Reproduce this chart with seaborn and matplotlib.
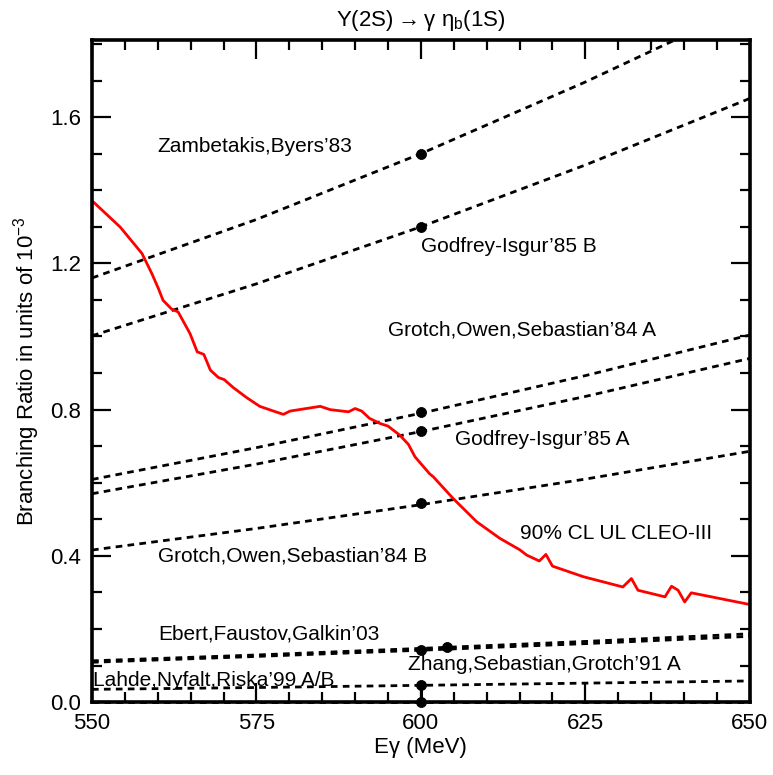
import numpy as np
import pandas as pd
import matplotlib
matplotlib.use("Agg")
import matplotlib.pyplot as plt
import seaborn as sns
from matplotlib.ticker import MultipleLocator, FormatStrFormatter

# ---------------- data ----------------
model_e = [550, 575, 600, 625, 650]
zambetakis_83 = [1.160, 1.320, 1.500, 1.696, 1.907]
godfrey_85b = [1.002, 1.144, 1.300, 1.469, 1.651]
grotch_84a = [0.609, 0.696, 0.790, 0.893, 1.004]
godfrey_85a = [0.570, 0.651, 0.740, 0.836, 0.940]
grotch_84b = [0.416, 0.475, 0.540, 0.610, 0.686]
ebert_03 = [0.109, 0.125, 0.142, 0.160, 0.180]
zhang_91a = [0.113, 0.129, 0.147, 0.166, 0.187]
lahde_99a = [0.035, 0.040, 0.046, 0.052, 0.058]
lahde_99b = [0.0, 0.0, 0.0, 0.0, 0.0]

dot_e = [600, 600, 600, 600, 600, 600, 604, 600, 600]
dot_br = [1.50, 1.30, 0.793, 0.741, 0.544, 0.142, 0.150, 0.046, 0.0]

cleo_e = [550.2, 554.3, 557.6, 559.1, 560.1, 560.8, 562.1, 563.1, 564.9, 566.0,
          567.0, 568.0, 569.2, 570.1, 571.5, 573.5, 575.5, 577.6, 579.1, 580.1,
          584.7, 586.2, 589.0, 590.0, 591.0, 592.2, 593.8, 595.0, 596.8, 598.1,
          599.1, 601.3, 601.9, 604.9, 608.5, 612.0, 615.0, 616.1, 618.0, 619.0,
          620.0, 624.7, 630.7, 632.0, 633.0, 637.1, 638.1, 639.1, 640.1, 641.1,
          650.0]
cleo_ul = [1.368, 1.299, 1.227, 1.172, 1.131, 1.099, 1.075, 1.067, 1.008, 0.958,
           0.951, 0.908, 0.888, 0.882, 0.860, 0.833, 0.809, 0.796, 0.787, 0.796,
           0.809, 0.800, 0.794, 0.803, 0.796, 0.776, 0.762, 0.755, 0.730, 0.705,
           0.671, 0.625, 0.616, 0.557, 0.493, 0.448, 0.417, 0.402, 0.386, 0.404,
           0.372, 0.343, 0.315, 0.338, 0.306, 0.288, 0.317, 0.306, 0.274, 0.299,
           0.267]

labels = ["Zambetakis,Byers\u201983", "Godfrey-Isgur\u201985 B",
          "Grotch,Owen,Sebastian\u201984 A", "Godfrey-Isgur\u201985 A",
          "Grotch,Owen,Sebastian\u201984 B", "90% CL UL CLEO-III",
          "Ebert,Faustov,Galkin\u201903", "Zhang,Sebastian,Grotch\u201991 A",
          "Lahde,Nyfalt,Riska\u201999 A/B"]
label_x = [560.0, 600.0, 595.0, 605.2, 560.0, 615.0, 560.0, 598.0, 550.2]
label_y = [1.52, 1.247, 1.017, 0.719, 0.399, 0.462, 0.186, 0.104, 0.060]

# ---------------- style ----------------
sns.set_style("ticks")
plt.rcParams["font.family"] = ["Liberation Sans", "DejaVu Sans"]
plt.rcParams["mathtext.fontset"] = "custom"
plt.rcParams["mathtext.rm"] = "Liberation Sans"
for k in ["text.color", "axes.labelcolor", "xtick.color", "ytick.color",
          "axes.edgecolor"]:
    plt.rcParams[k] = "black"

fig = plt.figure(figsize=(7.73, 7.75), dpi=100)
ax = fig.add_axes([0.119, 0.094, 0.851, 0.854])

dash = (2.4, 1.9)
lw = 2.0
for series in [zambetakis_83, godfrey_85b, grotch_84a, godfrey_85a, grotch_84b,
               ebert_03, zhang_91a, lahde_99a]:
    sns.lineplot(x=model_e, y=series, ax=ax, color="black", linewidth=lw,
                 estimator=None, sort=False)
    ax.lines[-1].set_dashes(dash)
sns.lineplot(x=model_e, y=lahde_99b, ax=ax, color="black", linewidth=lw,
             estimator=None, sort=False)
ax.lines[-1].set_dashes(dash)
ax.lines[-1].set_clip_on(False)

# A/B band for Lahde at 600
ax.plot([dot_e[-2], dot_e[-1]], [dot_br[-2], dot_br[-1]], color="black", lw=2.2)

sns.lineplot(x=cleo_e, y=cleo_ul, ax=ax, color="red", linewidth=2.0,
             estimator=None, sort=False)

sns.scatterplot(x=dot_e, y=dot_br, ax=ax, color="black", s=52, edgecolor="black",
                zorder=5, clip_on=False)

for t, x, y in zip(labels, label_x, label_y):
    ax.text(x, y, t, fontsize=15, ha="left", va="center", color="black")

ax.set_xlim(550, 650)
ax.set_ylim(0, 1.81)
ax.xaxis.set_major_locator(MultipleLocator(25))
ax.xaxis.set_minor_locator(MultipleLocator(5))
ax.yaxis.set_major_locator(MultipleLocator(0.4))
ax.yaxis.set_minor_locator(MultipleLocator(0.1))
ax.yaxis.set_major_formatter(FormatStrFormatter("%.1f"))
ax.tick_params(which="both", direction="in", top=True, right=True, width=1.6,
               labelsize=16, pad=8, colors="black")
ax.tick_params(which="major", length=14)
ax.tick_params(which="minor", length=7)
for s in ax.spines.values():
    s.set_linewidth(2.6)
    s.set_visible(True)
    s.set_color("black")

ax.set_xlabel("E\u03b3 (MeV)", fontsize=16, labelpad=2)
ax.set_ylabel("Branching Ratio in units of 10$^{-3}$", fontsize=16, labelpad=6)
ax.set_title("\u03a5(2S)$\\rightarrow$\u03b3 \u03b7$_\\mathregular{b}$(1S)",
             fontsize=16, pad=10)

fig.savefig("out.png", dpi=100)
